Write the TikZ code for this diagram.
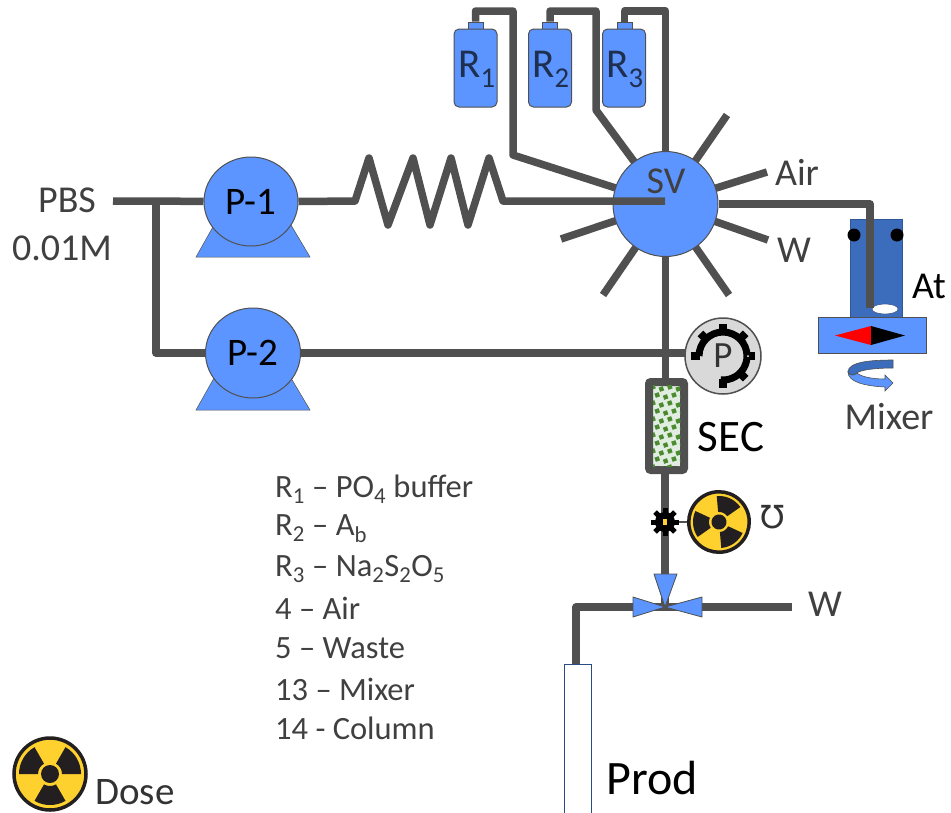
\documentclass[tikz,border=0pt]{standalone}
\usepackage{fontspec}
\setmainfont{Carlito}
\newfontfamily\mhofont{DejaVu Sans}
\usetikzlibrary{backgrounds,shapes.geometric}

\definecolor{pipegray}{HTML}{505050}
\definecolor{sysblue}{HTML}{5C95FF}
\definecolor{atblue}{HTML}{3C6CBC}
\definecolor{labelgray}{HTML}{404040}
\definecolor{radyellow}{HTML}{FFD12E}
\definecolor{radblack}{HTML}{231F20}
\definecolor{secgreen}{HTML}{4B8B2F}
\definecolor{bottletxt}{HTML}{1F2F4F}

\tikzset{
	pipe/.style={draw=pipegray, line width=7.5pt, line join=round},
	txt/.style={inner sep=0pt, text=labelgray, font=\fontsize{38}{42}\selectfont},
	blacktxt/.style={txt, text=black},
	legend/.style={inner sep=0pt, anchor=west, text=labelgray, font=\fontsize{32.5}{36}\selectfont},
	pump/.style={ellipse, draw=pipegray, line width=1pt, fill=sysblue, inner sep=0pt},
	bottle/.style={rectangle, rounded corners=5pt, draw=pipegray, line width=1pt, fill=sysblue,
		minimum width=43pt, minimum height=78pt, inner sep=0pt},
	neck/.style={rectangle, draw=pipegray, line width=.7pt, fill=sysblue,
		minimum width=15pt, minimum height=7pt, inner sep=0pt},
	wedge/.style={draw=pipegray, line width=.8pt, fill=sysblue, line join=round},
	radsym/.pic={
		\filldraw[draw=radblack, fill=radyellow, line width=3.5pt] (0,0) circle[radius=36pt];
		\fill[radblack] (0,0) circle[radius=9pt];
		\foreach \a in {30,150,270}
			\fill[radblack] (\a-30:12pt) arc[start angle=\a-30, end angle=\a+30, radius=12pt]
				-- (\a+30:31pt) arc[start angle=\a+30, end angle=\a-30, radius=31pt] -- cycle;
	},
}

\begin{document}
\begin{tikzpicture}[x=1pt, y=-1pt]
	\useasboundingbox (0,0) rectangle (951,812);

	%------------------------------------------------
	% Pump bases
	%------------------------------------------------
	\fill[sysblue, draw=pipegray, line width=.5pt] (196,257) -- (214,225) -- (291,225) -- (310,257) -- cycle;
	\fill[sysblue, draw=pipegray, line width=.5pt] (196,410) -- (214,378) -- (291,378) -- (310,410) -- cycle;

	%------------------------------------------------
	% Main units
	%------------------------------------------------
	\node [pump, minimum width=94pt, minimum height=89pt] (P1) at (251,201.5) {\fontsize{39}{42}\selectfont P-1};
	\node [pump, minimum width=95pt, minimum height=90pt] (P2) at (253,353) {\fontsize{39}{42}\selectfont P-2};
	\node [circle, draw=pipegray, line width=1pt, fill=sysblue, minimum size=105pt, inner sep=0pt] (SV) at (665.5,204) {};

	\node [neck] (N1) at (475.5,25.5) {};
	\node [neck] (N2) at (550,25.5) {};
	\node [neck] (N3) at (624.5,25.5) {};
	\node [bottle] (R1) at (475.5,68) {};
	\node [bottle] (R2) at (550,68) {};
	\node [bottle] (R3) at (624,68) {};
	\node [txt, text=bottletxt, font=\fontsize{41}{44}\selectfont] (R1t) at (477,69) {R\textsubscript{1}};
	\node [txt, text=bottletxt, font=\fontsize{41}{44}\selectfont] (R2t) at (551,69) {R\textsubscript{2}};
	\node [txt, text=bottletxt, font=\fontsize{41}{44}\selectfont] (R3t) at (625,69) {R\textsubscript{3}};

	%------------------------------------------------
	% Mixer
	%------------------------------------------------
	\node [rectangle, fill=atblue, draw=atblue!80!black, minimum width=52pt, minimum height=98pt, inner sep=0pt] (At) at (876,268) {};
	\node [circle, fill=black, minimum size=13pt, inner sep=0pt] (DotL) at (854,235) {};
	\node [circle, fill=black, minimum size=13pt, inner sep=0pt] (DotR) at (897,235) {};
	\node [ellipse, fill=white, draw=atblue!60!black, minimum width=26pt, minimum height=10pt, inner sep=0pt] (Hole) at (885,309) {};
	\node [rectangle, fill=sysblue, draw=pipegray, line width=1pt, minimum width=108pt, minimum height=36pt, inner sep=0pt] (Mix) at (872,335) {};
	\fill[red] (835,335.5) -- (871,326) -- (871,345) -- cycle;
	\fill[black] (905,335.5) -- (871,326) -- (871,345) -- cycle;
	% rotation arrow
	\filldraw[fill=atblue, draw=pipegray, line width=.6pt] (893,360) .. controls (870,360) and (848,362) .. (848,372)
		.. controls (850,376) and (854,376) .. (857,373) .. controls (860,370) and (875,368) .. (893,368) -- cycle;
	\filldraw[fill=sysblue, draw=pipegray, line width=.6pt] (848,372) .. controls (848,382) and (865,386) .. (885,387)
		-- (885,391) -- (893,383) -- (885,375) -- (885,379) .. controls (870,379) and (860,376) .. (857,373)
		.. controls (854,376) and (850,376) .. (848,372) -- cycle;

	%------------------------------------------------
	% Pressure gauge
	%------------------------------------------------
	\node [circle, draw=pipegray, line width=1.5pt, fill=black!15, minimum size=76pt, inner sep=0pt] (PG) at (723,356) {};
	\draw[black, line width=7pt] (PG.center) ++(180:24pt) arc[start angle=180, end angle=-95, radius=24pt];
	\foreach \a in {180,135,90,45,0,-45,-90}
		\draw[black, line width=8pt] (PG.center) ++(\a:23pt) -- ++(\a:9pt);
	\fill[white] (PG.center) ++(0:25pt) circle[radius=1pt];
	\node [txt, text=black!80, font=\fontsize{37}{40}\selectfont] (PGt) at (723,356) {P};

	%------------------------------------------------
	% Column
	%------------------------------------------------
	\node [rectangle, rounded corners=2pt, draw=pipegray, line width=8pt, fill=green!40!black!12!white,
		minimum width=35pt, minimum height=88pt, inner sep=0pt] (SEC) at (666.5,426) {};
	\begin{scope}
		\clip (653,385) rectangle (680.5,466.5);
		\foreach \i in {0,...,10}
			\foreach \j in {0,...,3} {
				\pgfmathsetmacro{\dx}{653+\j*8.4+mod(\i,2)*4.2}
				\pgfmathsetmacro{\dy}{387+\i*8+mod(\j,2)*2}
				\fill[secgreen, rotate around={20:(\dx,\dy)}] (\dx-2.2,\dy-2.2) rectangle (\dx+2.2,\dy+2.2);
			}
	\end{scope}

	%------------------------------------------------
	% Gear and radiation detector
	%------------------------------------------------
	\node [circle, fill=black, minimum size=20pt, inner sep=0pt] (GearS) at (665,522) {};
	\foreach \a in {0,45,...,315}
		\draw[black, line width=5pt] (GearS.center) ++(\a:8pt) -- ++(\a:6pt);
	\fill[radyellow] (663,519) rectangle (667,525);
	\coordinate (RadA) at (719,522);
	\pic[scale=.84, rotate=35] at (RadA) {radsym};
	\coordinate (RadD) at (50,774);
	\pic at (RadD) {radsym};

	%------------------------------------------------
	% Three way valve
	%------------------------------------------------
	\coordinate (Vc) at (665,607);
	\filldraw[wedge] (654,574) -- (677,574) -- (Vc) -- cycle;
	\filldraw[wedge] (633,597) -- (633,617) -- (Vc) -- cycle;
	\filldraw[wedge] (702,597) -- (702,617) -- (Vc) -- cycle;
	\node [rectangle, draw=atblue!70!black, line width=1pt, fill=white, minimum width=27pt, minimum height=160pt,
		inner sep=0pt, anchor=north] (Prod) at (577.5,664) {};

	%------------------------------------------------
	% Pipes
	%------------------------------------------------
	\coordinate (Inlet) at (113,201);
	\coordinate (Tee) at (156,201);
	\coordinate (Ra) at (513,11);
	\coordinate (Rb) at (513,155);
	\coordinate (Rc) at (596,11);
	\coordinate (Rd) at (596,110);
	\coordinate (Re) at (665.5,11);
	\coordinate (Sa) at (727,115);
	\coordinate (Sb) at (767,172);
	\coordinate (Sc) at (768,240);
	\coordinate (Sd) at (729,295);
	\coordinate (Se) at (603,295);
	\coordinate (Sf) at (561,239);
	\coordinate (Hb) at (870,204);
	\coordinate (He) at (870,308);
	\coordinate (Lb) at (576,607);
	\coordinate (We) at (792,607);
	\coordinate (PGw) at (690,353);

	\begin{scope}[on background layer]
		\draw[pipe] (Inlet) -- (P1);
		\draw[pipe] (Tee) |- (P2);
		\draw[pipe] (P2) -- (PGw);
		\draw[pipe] (N1) |- (Ra) -- (Rb) -- (SV.center);
		\draw[pipe] (N2) |- (Rc) -- (Rd) -- (SV.center);
		\draw[pipe] (N3) |- (Re) -- (SV.center);
		\draw[pipe] (SV.center) -- (Sa);
		\draw[pipe] (SV.center) -- (Sb);
		\draw[pipe] (SV.center) -- (Sc);
		\draw[pipe] (SV.center) -- (Sd);
		\draw[pipe] (SV.center) -- (Se);
		\draw[pipe] (SV.center) -- (Sf);
		\draw[pipe] (SV.center) -- (SV.center |- SEC.north);
		\draw[pipe] (Vc |- SEC.south) -- (Vc);
		\draw[pipegray, line width=1.5pt] (GearS) -- (RadA);
		\draw[pipe] (Vc) -- (Lb) -- (Lb |- Prod.north);
		\draw[pipe] (Vc) -- (We);
	\end{scope}

	% these run over the units
	\coordinate (Za) at (355,201);
	\coordinate (Zb) at (503,201);
	\coordinate (Sv) at (665,201);
	\draw[pipe] (P1.east) -- (Za) -- (369,158) -- (388,225) -- (413,158) -- (430,225) -- (451,158) -- (468,225) -- (489,158) -- (Zb) -- (Sv);
	\draw[pipe] (SV.east) -- (Hb) -- (He);

	%------------------------------------------------
	% Labels
	%------------------------------------------------
	\node [txt] (SVt) at (666,181) {SV};
	\node [txt] (PBS) at (67,200) {PBS};
	\node [txt] (Conc) at (62,248) {0.01M};
	\node [txt] (Air) at (797,172) {Air};
	\node [txt] (W1) at (794,250) {W};
	\node [txt] (W2) at (825,604) {W};
	\node [blacktxt] (AtL) at (929,286) {At};
	\node [txt] (MixL) at (889,417) {Mixer};
	\node [blacktxt, font=\fontsize{45}{48}\selectfont] (SECL) at (731,437) {SEC};
	\node [txt, text=black!80, font=\mhofont\fontsize{32}{40}\selectfont] (Mho) at (773,517) {℧};
	\node [blacktxt, font=\fontsize{48}{52}\selectfont] (ProdL) at (652,778) {Prod};
	\node [blacktxt, text=black!80, font=\fontsize{39}{42}\selectfont] (Dose) at (135,792) {Dose};

	\node [legend] (L1) at (275,489) {R\textsubscript{1} -- PO\textsubscript{4} buffer};
	\node [legend] (L2) at (275,529) {R\textsubscript{2} -- A\textsubscript{b}};
	\node [legend] (L3) at (275,569) {R\textsubscript{3} -- Na\textsubscript{2}S\textsubscript{2}O\textsubscript{5}};
	\node [legend] (L4) at (275,608) {4 -- Air};
	\node [legend] (L5) at (275,648) {5 -- Waste};
	\node [legend] (L6) at (275,689) {13 -- Mixer};
	\node [legend] (L7) at (275,728) {14 - Column};

\end{tikzpicture}
\end{document}
